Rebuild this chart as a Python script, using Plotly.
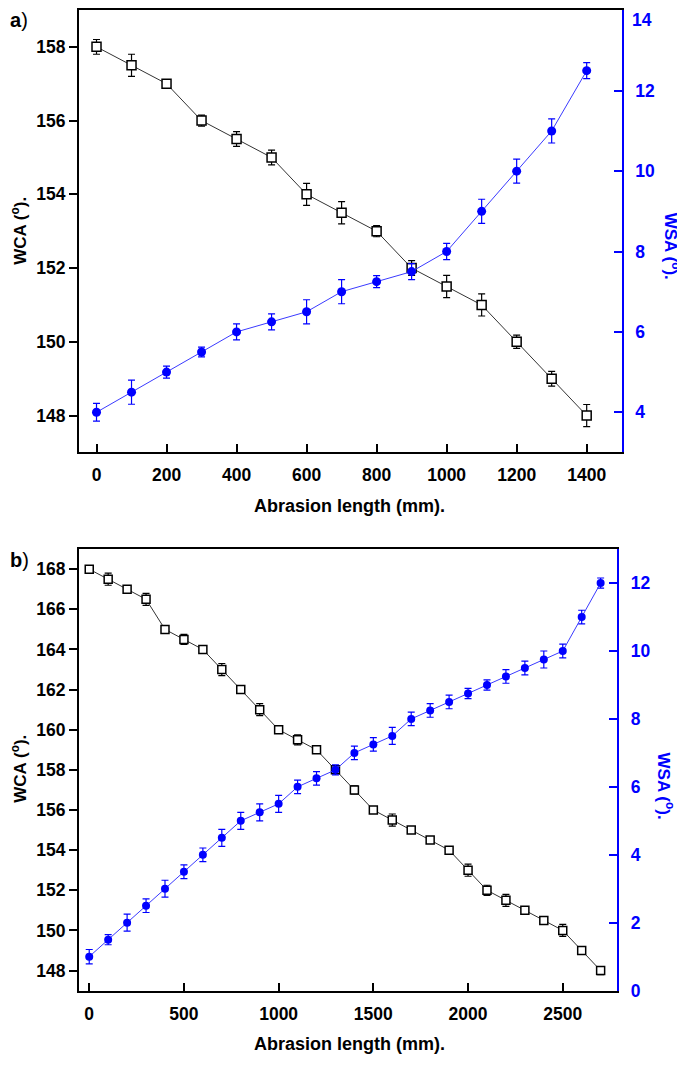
import plotly.graph_objects as go

# page has an 8px body margin, so the figure is offset by (8, 8)
OFF = 8
W, H = 685 - OFF, 1065 - OFF

# ---- Panel a data ----
len_a = [0, 100, 200, 300, 400, 500, 600, 700, 800, 900, 1000, 1100, 1200, 1300, 1400]
wca_a = [158, 157.5, 157, 156, 155.5, 155, 154, 153.5, 153, 152, 151.5, 151, 150, 149, 148]
wca_a_err = [0.2, 0.3, 0.1, 0.15, 0.2, 0.2, 0.3, 0.3, 0.15, 0.2, 0.3, 0.3, 0.18, 0.2, 0.3]
wsa_a = [4.0, 4.5, 5.0, 5.5, 6.0, 6.25, 6.5, 7.0, 7.25, 7.5, 8.0, 9.0, 10.0, 11.0, 12.5]
wsa_a_err = [0.22, 0.3, 0.15, 0.12, 0.2, 0.2, 0.3, 0.3, 0.15, 0.2, 0.2, 0.3, 0.3, 0.3, 0.2]
wsa_a_ticks = [4, 6, 8, 10, 12, 14]

# ---- Panel b data ----
len_b = [0, 100, 200, 300, 400, 500, 600, 700, 800, 900, 1000, 1100, 1200, 1300,
         1400, 1500, 1600, 1700, 1800, 1900, 2000, 2100, 2200, 2300, 2400, 2500, 2600, 2700]
wca_b = [168, 167.5, 167, 166.5, 165, 164.5, 164, 163, 162, 161, 160, 159.5, 159, 158,
         157, 156, 155.5, 155, 154.5, 154, 153, 152, 151.5, 151, 150.5, 150, 149, 148]
wca_b_err = [0.1, 0.3, 0.15, 0.3, 0.1, 0.25, 0.15, 0.3, 0.1, 0.3, 0.1, 0.25, 0.1, 0.15,
             0.2, 0.1, 0.3, 0.15, 0.1, 0.15, 0.3, 0.25, 0.3, 0.1, 0.1, 0.3, 0.1, 0.2]
wsa_b = [1.0, 1.5, 2.0, 2.5, 3.0, 3.5, 4.0, 4.5, 5.0, 5.25, 5.5, 6.0, 6.25, 6.5,
         7.0, 7.25, 7.5, 8.0, 8.25, 8.5, 8.75, 9.0, 9.25, 9.5, 9.75, 10.0, 11.0, 12.0]
wsa_b_err = [0.21, 0.15, 0.25, 0.2, 0.25, 0.2, 0.2, 0.25, 0.25, 0.25, 0.25, 0.2, 0.2, 0.15,
             0.2, 0.2, 0.25, 0.2, 0.2, 0.2, 0.15, 0.15, 0.2, 0.2, 0.25, 0.2, 0.2, 0.15]

BLUE = "#0000ff"
FONT = "Liberation Sans, Arial, sans-serif"


def px(x):
    return (x - OFF) / W


def py(y):
    return 1 - (y - OFF) / H


fig = go.Figure()


def add_panel(xs, wca, wca_err, wsa, wsa_err, xa, ya, ya2, msize_sq, msize_c):
    fig.add_trace(go.Scatter(
        x=xs, y=wca, mode="lines+markers", xaxis=xa, yaxis=ya,
        line=dict(color="#333333", width=1),
        marker=dict(symbol="square", size=msize_sq, color="white",
                    line=dict(color="black", width=1.5)),
        error_y=dict(type="data", array=wca_err, visible=True,
                     color="black", thickness=1.2, width=3.5),
        showlegend=False))
    fig.add_trace(go.Scatter(
        x=xs, y=wsa, mode="lines+markers", xaxis=xa, yaxis=ya2,
        line=dict(color="#3a3aff", width=1),
        marker=dict(symbol="circle", size=msize_c, color=BLUE),
        error_y=dict(type="data", array=wsa_err, visible=True,
                     color=BLUE, thickness=1.2, width=3.5),
        showlegend=False))


add_panel(len_a, wca_a, wca_a_err, wsa_a, wsa_a_err, "x", "y", "y2", 9, 9)
add_panel(len_b, wca_b, wca_b_err, wsa_b, wsa_b_err, "x2", "y3", "y4", 8, 8)

tickf_k = dict(family=FONT, size=17.5, color="black", weight="bold")
tickf_b = dict(family=FONT, size=17.5, color=BLUE, weight="bold")

xcommon = dict(showline=True, linecolor="black", linewidth=2, mirror=True,
               ticks="inside", ticklen=8, tickwidth=2, tickcolor="black",
               showgrid=False, zeroline=False, tickfont=tickf_k,
               ticklabelstandoff=6)
ylcommon = dict(showline=True, linecolor="black", linewidth=2,
                ticks="outside", ticklen=8, tickwidth=2, tickcolor="black",
                showgrid=False, zeroline=False, tickfont=tickf_k)
yrcommon = dict(showline=True, linecolor=BLUE, linewidth=2, side="right",
                ticks="inside", ticklen=8, tickwidth=2, tickcolor=BLUE,
                showgrid=False, zeroline=False, tickfont=tickf_b,
                ticklabelstandoff=8)

# the top label of the right axis of panel a would run past the page top,
# so it is drawn as a text just below the top instead
top_lbl = wsa_a_ticks[-1]
fig.update_layout(
    width=W, height=H,
    margin=dict(l=0, r=0, t=0, b=0),
    paper_bgcolor="white", plot_bgcolor="white",
    xaxis=dict(domain=[px(79), px(621.7)], range=[-50, 1500], anchor="y",
               tickvals=[0, 200, 400, 600, 800, 1000, 1200, 1400], **xcommon),
    yaxis=dict(domain=[py(456.7), py(10)], range=[147, 159], anchor="x",
               tickvals=[148, 150, 152, 154, 156, 158], **ylcommon),
    yaxis2=dict(domain=[py(456.7), py(10)], range=[3, 14.01], anchor="x",
                overlaying="y", tickvals=wsa_a_ticks,
                ticktext=[str(v) if v != top_lbl else "" for v in wsa_a_ticks],
                **yrcommon),
    xaxis2=dict(domain=[px(79), px(617.3)], range=[-54, 2788], anchor="y3",
                tickvals=[0, 500, 1000, 1500, 2000, 2500], **xcommon),
    yaxis3=dict(domain=[py(1000), py(554.3)], range=[147, 169], anchor="x2",
                tickvals=[148, 150, 152, 154, 156, 158, 160, 162, 164, 166, 168], **ylcommon),
    yaxis4=dict(domain=[py(1000), py(554.3)], range=[0, 13], anchor="x2",
                overlaying="y3", tickvals=[0, 2, 4, 6, 8, 10, 12], **yrcommon),
)

tfont_k = dict(family=FONT, size=17, color="black", weight="bold")
tfont_b = dict(family=FONT, size=17, color=BLUE, weight="bold")
tfont_x = dict(family=FONT, size=18, color="black", weight="bold")

ann = [
    dict(x=px(630), y=1, text=str(top_lbl), font=tickf_b,
         xanchor="left", yanchor="top"),
    # panel labels
    dict(x=px(8), y=py(20), text="<b>a</b>)", font=dict(family=FONT, size=20, color="black"),
         xanchor="left", yanchor="middle"),
    dict(x=px(8), y=py(565), text="<b>b</b>)", font=dict(family=FONT, size=20, color="black"),
         xanchor="left", yanchor="middle"),
    # x titles
    dict(x=px(349), y=py(511), text="Abrasion length (mm).", font=tfont_x,
         xanchor="center", yanchor="middle"),
    dict(x=px(349), y=py(1054), text="Abrasion length (mm).", font=tfont_x,
         xanchor="center", yanchor="middle"),
    # left titles
    dict(x=px(19), y=py(233), text="WCA (<sup>o</sup>).", font=tfont_k, textangle=-90,
         xanchor="center", yanchor="middle"),
    dict(x=px(19), y=py(776), text="WCA (<sup>o</sup>).", font=tfont_k, textangle=-90,
         xanchor="center", yanchor="middle"),
    # right titles
    dict(x=px(672), y=py(248), text="WSA (<sup>o</sup>).", font=tfont_b, textangle=90,
         xanchor="center", yanchor="middle"),
    dict(x=px(666), y=py(793), text="WSA (<sup>o</sup>).", font=tfont_b, textangle=90,
         xanchor="center", yanchor="middle"),
]
for a in ann:
    fig.add_annotation(xref="paper", yref="paper", showarrow=False, **a)

fig.write_html("out.html")
